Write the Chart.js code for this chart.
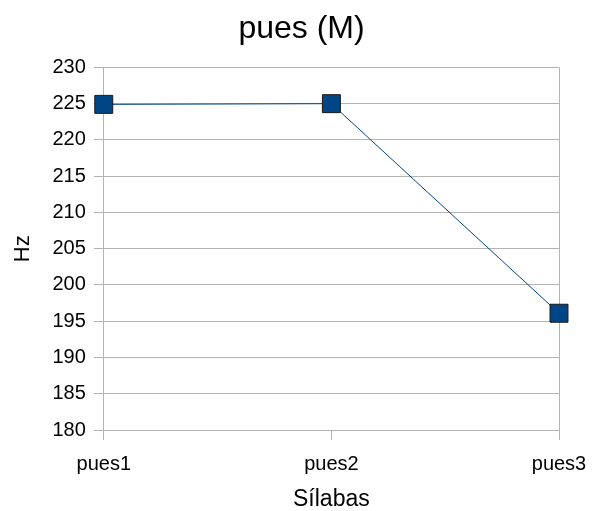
<!DOCTYPE html>
<html>
<head>
<meta charset="utf-8">
<script src="https://cdn.jsdelivr.net/npm/chart.js@4"></script>
<style>
html,body{margin:0;padding:0;background:#fff;}
#wrap{width:593px;height:511px;}
</style>
</head>
<body>
<div id="wrap"><canvas id="c" width="593" height="511"></canvas></div>
<script>
const categories = ["pues1", "pues2", "pues3"];
const hzValues = [224.9, 225.0, 196.1];
const yTicks = [180, 185, 190, 195, 200, 205, 210, 215, 220, 225, 230];
const titleText = "pues (M)";
const xTitle = "Sílabas";
const yTitle = "Hz";

const gridCol = '#b3b3b3';
const fontFam = '"Liberation Sans", Arial, sans-serif';

new Chart(document.getElementById('c'), {
  type: 'line',
  data: {
    labels: categories,
    datasets: [{
      data: hzValues,
      borderColor: '#004586',
      borderWidth: 1,
      backgroundColor: '#004586',
      pointStyle: 'rect',
      pointRadius: 12.7,
      pointHoverRadius: 12.7,
      pointBorderColor: '#1a1a1a',
      pointBorderWidth: 1,
      pointBackgroundColor: '#004586',
      tension: 0
    }]
  },
  options: {
    responsive: false,
    animation: false,
    devicePixelRatio: 1,
    layout: { padding: { top: 10, right: 0, left: 10, bottom: 0 } },
    plugins: {
      legend: { display: false },
      tooltip: { enabled: false },
      title: {
        display: true,
        text: titleText,
        color: '#000',
        font: { family: fontFam, size: 32, weight: 'normal' },
        padding: { top: 0, bottom: 19 }
      }
    },
    scales: {
      x: {
        type: 'category',
        offset: false,
        afterFit: (s) => { s.paddingRight = 34; },
        grid: {
          color: (ctx) => ctx.index === 2 ? gridCol : 'rgba(0,0,0,0)',
          tickColor: gridCol,
          tickLength: 10,
          drawOnChartArea: true,
          lineWidth: 1
        },
        border: { color: gridCol, width: 1 },
        ticks: {
          color: '#000',
          font: { family: fontFam, size: 20 },
          padding: 12,
          maxRotation: 0
        },
        title: {
          display: true,
          text: xTitle,
          color: '#000',
          font: { family: fontFam, size: 23, lineHeight: 1.0 },
          padding: { top: 0, bottom: 0 }
        }
      },
      y: {
        min: 180,
        max: 230,
        afterBuildTicks: (axis) => { axis.ticks = yTicks.map(v => ({ value: v })); },
        grid: {
          color: gridCol,
          tickColor: gridCol,
          tickLength: 10,
          lineWidth: 1
        },
        border: { color: gridCol, width: 1 },
        ticks: {
          color: '#000',
          font: { family: fontFam, size: 20 },
          padding: 8
        },
        title: {
          display: true,
          text: yTitle,
          color: '#000',
          font: { family: fontFam, size: 22 },
          padding: { top: 0, bottom: 8 }
        }
      }
    }
  }
});
</script>
</body>
</html>
